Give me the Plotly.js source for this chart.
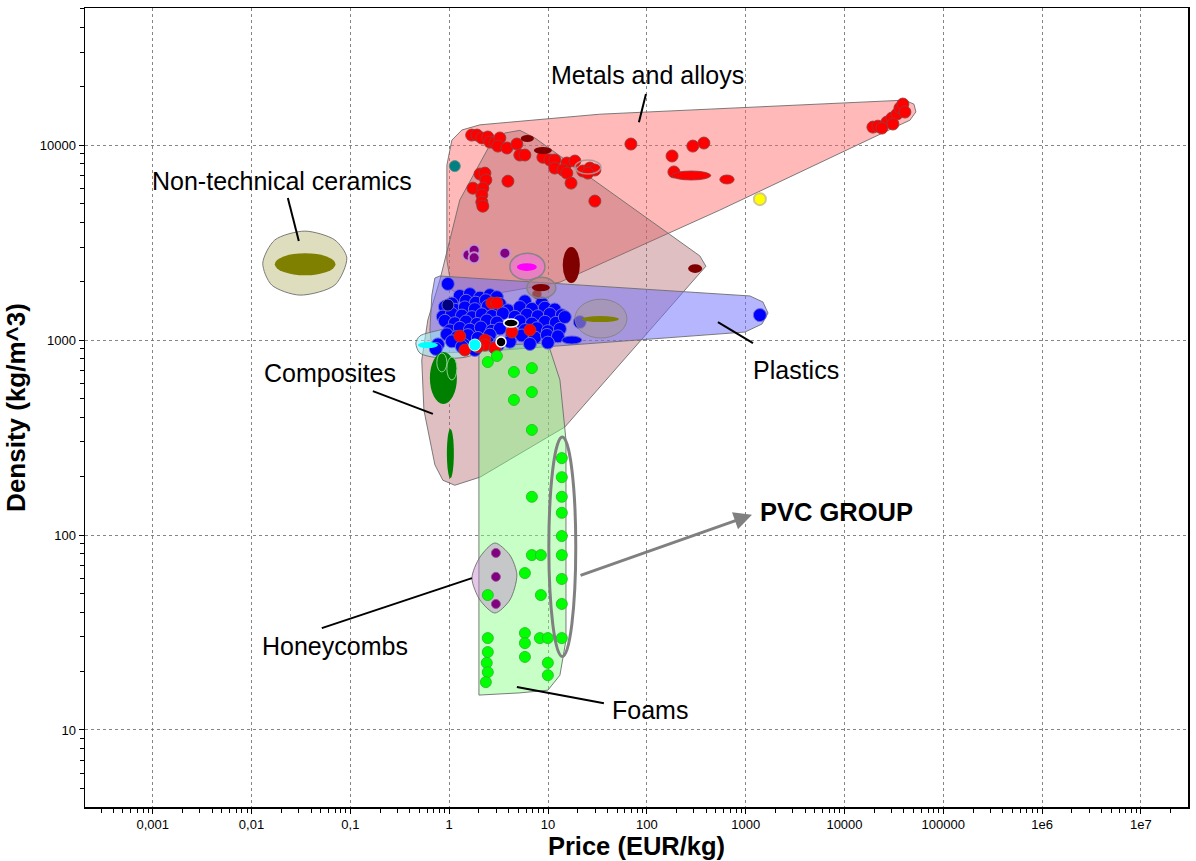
<!DOCTYPE html>
<html><head><meta charset="utf-8">
<script src="https://cdn.plot.ly/plotly-3.0.1.min.js"></script>
<style>html,body{margin:0;padding:0;background:#fff}#chart{width:1196px;height:861px}</style>
</head><body><div id="chart"></div>
<script>
// ---------- Tick labels ----------
const xTickVals = [0.001, 0.01, 0.1, 1, 10, 100, 1000, 10000, 100000, 1e6, 1e7];
const xTickText = ['0,001', '0,01', '0,1', '1', '10', '100', '1000', '10000', '100000', '1e6', '1e7'];
const yTickVals = [10, 100, 1000, 10000];
const yTickText = ['10', '100', '1000', '10000'];

// ---------- Family envelopes (price EUR/kg, density kg/m^3) ----------
const metalsPrice = [0.948, 0.948, 1.065, 1.345, 2.05, 33.5, 40900, 50500, 52800, 45900, 36400, 548, 13.2, 1.62, 1.065, 0.948];
const metalsDensity = [5220, 7890, 10600, 11950, 12700, 14400, 17000, 16200, 14800, 13400, 12700, 4640, 1980, 1640, 1800, 2570];

const compositesPrice = [0.805, 1.28, 2.58, 3.66, 5.19, 7.37, 344, 396, 329, 14.8, 2.05, 1.14, 0.863, 0.717, 0.555, 0.528, 0.608];
const compositesDensity = [2030, 5230, 10000, 11530, 11900, 10870, 2700, 2390, 2150, 358, 198, 180, 191, 229, 438, 790, 1266];

const plasticsPrice = [0.717, 0.805, 1105, 1496, 1683, 1462, 984, 2.58, 0.805, 0.668, 0.638, 0.668];
const plasticsDensity = [2080, 2130, 1683, 1567, 1375, 1208, 1099, 879, 858, 910, 1126, 1700];

const elastomersPrice = [0.460, 0.505, 0.805, 1.62, 4.62, 6.11, 6.24, 3.26, 1.62, 0.805, 0.505];
const elastomersDensity = [965, 1049, 1126, 1237, 1511, 1530, 1393, 1061, 828, 809, 858];

const foamsPrice = [2.0, 9.97, 13.2, 15.2, 15.2, 13.2, 9.97, 5.19, 2.0];
const foamsDensity = [931, 965, 624, 307, 28.9, 19.1, 16.0, 15.5, 15.1];

const honeycombsPrice = [1.70, 2.05, 2.90, 4.11, 4.84, 4.11, 2.90, 2.05];
const honeycombsDensity = [60.1, 77.1, 91.0, 78.9, 62.4, 46.4, 39.8, 46.4];

const ceramicsPrice = [0.0130, 0.0172, 0.0346, 0.0697, 0.0921, 0.0697, 0.0308, 0.0160];
const ceramicsDensity = [2480, 3260, 3620, 3260, 2640, 1915, 1700, 1915];

// ---------- Individual materials (points) ----------
const metalDotsPrice = [1.69, 1.91, 2.14, 2.46, 2.58, 2.90, 3.26, 3.11, 3.84, 4.84, 5.19, 5.84,
  2.05, 2.30, 2.35, 1.74, 2.19, 2.14, 2.14, 2.19, 3.93,
  8.88, 10.45, 11.7, 11.7, 15.5, 18.7, 14.2, 15.5, 17.1, 22.5, 26.5, 29.8, 25.3, 29.8,
  69.0, 180, 292, 378, 188,
  19400, 21800, 26900, 30200, 34000, 36400, 39000, 40900, 30900, 23900];
const metalDotsDensity = [11250, 11250, 10870, 11000, 10360, 10240, 10870, 9880, 9660, 10120, 8890, 8890,
  7100, 7180, 6620, 6010, 6010, 5540, 5100, 4860, 6530,
  8660, 8380, 8380, 7620, 8090, 8280, 7450, 7180, 6380, 7360, 7620, 7450, 7180, 5160,
  10120, 8790, 9880, 10240, 7280,
  12360, 12500, 13120, 13750, 14420, 15490, 16230, 14770, 12820, 12220];

const plasticDotsPrice = [1.28, 1.62, 2.05, 2.58, 3.04,
  1.065, 1.48, 1.86, 2.35, 3.26, 5.84, 8.67,
  0.905, 1.14, 1.44, 1.82, 2.46, 3.11, 3.93, 5.19, 6.87, 9.31, 11.7,
  0.863, 1.065, 1.345, 1.70, 2.14, 2.70, 3.49, 4.62, 6.11, 7.89, 10.45, 13.8,
  0.905, 1.14, 1.48, 1.91, 2.40, 3.04, 5.19, 6.87, 9.31, 12.0, 21.0,
  1.016, 1.28, 1.62, 2.09, 2.70, 3.26, 5.84, 7.72, 9.97, 13.2,
  0.948, 1.197, 1.55, 1.95, 2.58, 4.31, 5.44, 7.37, 9.75, 12.6,
  0.771, 1.065, 1.411, 2.46, 3.11, 4.11, 6.56, 9.97,
  0.733, 1.345, 1.82, 2.90,
  0.97, 14.8, 1393];
const plasticDotsDensity = [1683, 1720, 1650, 1700, 1660,
  1540, 1590, 1555, 1600, 1530, 1580, 1545,
  1480, 1430, 1470, 1440, 1490, 1450, 1420, 1475, 1445, 1465, 1435,
  1320, 1365, 1335, 1310, 1355, 1330, 1370, 1315, 1350, 1325, 1360, 1340,
  1255, 1220, 1245, 1210, 1260, 1230, 1250, 1215, 1240, 1225, 1237,
  1120, 1155, 1130, 1160, 1115, 1145, 1125, 1150, 1110, 1140,
  1070, 1035, 1060, 1025, 1065, 1040, 1055, 1030, 1062, 1045,
  950, 985, 945, 975, 940, 980, 955, 970,
  900, 925, 890, 915,
  1940, 1312, 1343];

const redPlasticPrice = [2.70, 3.04, 4.31, 6.56, 2.30, 2.30, 2.90, 1.44, 1.95, 1.28];
const redPlasticDensity = [1549, 1549, 1099, 1126, 1000, 943, 910, 889, 921, 1048];

const foamDotsPrice = [2.46, 3.04, 4.52, 6.87, 6.87, 4.52, 6.87, 6.87,
  13.8, 13.8, 13.8, 13.8, 13.8, 13.8, 13.8, 13.8, 13.8,
  6.87, 8.47, 5.84, 8.47, 2.46, 5.84, 5.84, 5.84, 8.28, 9.97, 2.46, 2.46, 2.40, 2.46, 2.35, 9.97, 9.97];
const foamDotsDensity = [771, 828, 686, 718, 541, 493, 346, 157,
  248, 198, 157, 130, 98.8, 78.9, 59.5, 44.3, 29.6,
  78.9, 78.9, 63.8, 49.2, 49.2, 31.4, 27.9, 23.7, 29.6, 29.6, 29.6, 25.1, 22.1, 19.8, 17.6, 22.1, 19.1];

const honeycombDotsPrice = [2.97, 2.97, 2.97];
const honeycombDotsDensity = [80.9, 61.0, 44.3];

const purpleDotsPrice = [1.55, 1.79, 1.79, 3.66];
const purpleDotsDensity = [2730, 2890, 2640, 2790];

const tealPrice = [1.14];      const tealDensity = [7800];
const yellowPrice = [1393];    const yellowDensity = [5280];
const navyPrice = [0.97];      const navyDensity = [1511];
const darkRedDotPrice = [7.72]; const darkRedDotDensity = [1720];
const blackDotPrice = [3.35];  const blackDotDensity = [977];
const cyanDotPrice = [1.82];   const cyanDotDensity = [943];

// ---------- Materials shown as ranges (ellipses) ----------
const rangeNames = ['ceramicOlive', 'magentaBubble', 'magenta', 'grayBubble', 'darkRed1', 'bigDarkRed', 'oliveBubble', 'olive2',
  'darkRedTop1', 'darkRedTop2', 'redLong', 'redSmall', 'darkRedRight', 'redBubble',
  'greenBig', 'greenIn1', 'greenIn2', 'greenThin', 'blueLong', 'cyanSmall', 'blackLong', 'pvcGroup'];
const rangePriceLo = [0.0172, 4.11, 4.84, 6.11, 6.87, 14.1, 18.7, 22.0, 5.3, 7.2, 179, 548, 262, 18.7, 0.638, 0.75, 0.948, 0.948, 13.8, 0.482, 3.57, 10.2];
const rangePriceHi = [0.0707, 9.31, 7.72, 12.0, 10.45, 21.0, 62.9, 52.2, 7.2, 10.95, 443, 764, 363, 34.3, 1.197, 0.948, 1.197, 1.115, 22.0, 0.77, 5.0, 19.1];
const rangeDensLo = [2150, 2030, 2260, 1640, 1780, 1960, 1024, 1237, 10370, 9000, 6620, 6320, 2210, 7100, 470, 686, 624, 196, 954, 910, 1166, 23.8];
const rangeDensHi = [2790, 2790, 2480, 2100, 1940, 3000, 1620, 1328, 11250, 9770, 7360, 7020, 2450, 8380, 868, 858, 818, 350, 1048, 977, 1281, 318];

// ---------- Labels ----------
const labelText = ['Metals and alloys', 'Non-technical ceramics', 'Composites', 'Plastics', 'Honeycombs', 'Foams'];
const labelPrice = [102.6, 0.0203, 0.0621, 3221, 0.0697, 107.4];
const labelDensity = [22860, 6530, 678, 702, 27.0, 12.7];
const leaderFromPrice = [98, 0.0233, 0.169, 524, 0.0514, 4.84];
const leaderFromDensity = [18300, 5350, 547, 1237, 33.3, 16.6];
const leaderToPrice = [83.2, 0.0301, 0.684, 1186, 1.70, 36.8];
const leaderToDensity = [13100, 3220, 418, 965, 60.1, 13.7];
const pvcLabel = 'PVC GROUP';
const pvcLabelPrice = 8390; const pvcLabelDensity = 131;
const pvcArrowFromPrice = 20.6; const pvcArrowFromDensity = 61.7;
const pvcArrowToPrice = 1159; const pvcArrowToDensity = 127;

// ---------- Styles ----------
const FONT = 'Liberation Sans, Arial, sans-serif';
const envLine = {color: 'rgba(110,110,110,0.9)', width: 1};
const rangeStyle = {
  ceramicOlive: {fill: '#808000', line: 'rgba(0,0,0,0)', w: 0},
  magentaBubble: {fill: 'rgba(235,120,205,0.75)', line: 'rgba(130,130,130,0.9)', w: 1.5},
  magenta: {fill: '#ff00ff', line: 'rgba(0,0,0,0)', w: 0},
  grayBubble: {fill: 'rgba(175,130,140,0.55)', line: 'rgba(130,130,130,0.9)', w: 1.5},
  darkRed1: {fill: '#800000', line: 'rgba(0,0,0,0)', w: 0},
  bigDarkRed: {fill: '#800000', line: 'rgba(0,0,0,0)', w: 0},
  oliveBubble: {fill: 'rgba(165,150,160,0.6)', line: 'rgba(130,130,130,0.9)', w: 1},
  olive2: {fill: '#808000', line: 'rgba(0,0,0,0)', w: 0},
  darkRedTop1: {fill: '#800000', line: 'rgba(0,0,0,0)', w: 0},
  darkRedTop2: {fill: '#800000', line: 'rgba(0,0,0,0)', w: 0},
  redLong: {fill: '#ff0000', line: 'rgba(150,60,60,0.9)', w: 1},
  redSmall: {fill: '#ff0000', line: 'rgba(150,60,60,0.9)', w: 1},
  darkRedRight: {fill: '#800000', line: 'rgba(0,0,0,0)', w: 0},
  redBubble: {fill: 'rgba(255,255,255,0)', line: 'rgba(170,150,150,0.9)', w: 1.5},
  greenBig: {fill: '#008000', line: 'rgba(0,0,0,0)', w: 0},
  greenIn1: {fill: '#008000', line: 'rgba(140,210,140,1)', w: 1},
  greenIn2: {fill: '#008000', line: 'rgba(140,210,140,1)', w: 1},
  greenThin: {fill: '#008000', line: 'rgba(0,0,0,0)', w: 0},
  blueLong: {fill: '#0000ff', line: 'rgba(90,90,200,1)', w: 1},
  cyanSmall: {fill: '#00ffff', line: 'rgba(0,0,0,0)', w: 0},
  blackLong: {fill: '#000000', line: '#ffffff', w: 1.5},
  pvcGroup: {fill: 'rgba(255,255,255,0)', line: 'rgb(128,128,128)', w: 3}
};

function closed(a) { return a.concat([a[0]]); }
function envelope(px, py, fill, shape) {
  return {type: 'scatter', mode: 'lines', x: closed(px), y: closed(py), fill: 'toself', fillcolor: fill,
    line: Object.assign({shape: shape || 'linear', smoothing: 0.8}, envLine), hoverinfo: 'skip', showlegend: false};
}
function dots(px, py, color, size, lineColor, lineWidth) {
  return {type: 'scatter', mode: 'markers', x: px, y: py, showlegend: false, hoverinfo: 'skip',
    marker: {color: color, size: size, line: {color: lineColor, width: lineWidth}}};
}

const traces = [
  envelope(metalsPrice, metalsDensity, 'rgba(255,100,100,0.45)'),
  envelope(compositesPrice, compositesDensity, 'rgba(175,95,100,0.4)'),
  envelope(plasticsPrice, plasticsDensity, 'rgba(110,110,255,0.5)'),
  envelope(elastomersPrice, elastomersDensity, 'rgba(150,235,245,0.55)', 'spline'),
  envelope(foamsPrice, foamsDensity, 'rgba(130,255,130,0.45)'),
  envelope(honeycombsPrice, honeycombsDensity, 'rgba(195,130,205,0.45)', 'spline'),
  envelope(ceramicsPrice, ceramicsDensity, 'rgba(190,190,125,0.5)', 'spline'),
  dots(tealPrice, tealDensity, '#008080', 11, 'rgba(90,140,140,0.9)', 1),
  dots(purpleDotsPrice, purpleDotsDensity, '#800080', 11, 'rgba(200,150,210,0.9)', 2),
  dots(metalDotsPrice, metalDotsDensity, '#ff0000', 12, 'rgba(150,60,60,0.9)', 1),
  dots(yellowPrice, yellowDensity, '#ffff00', 12, 'rgba(210,200,140,1)', 2),
  dots(plasticDotsPrice, plasticDotsDensity, '#0000ff', 13, 'rgba(110,110,215,1)', 1),
  dots(navyPrice, navyDensity, '#000080', 12, 'rgba(100,100,200,1)', 1),
  dots(redPlasticPrice, redPlasticDensity, '#ff0000', 12, 'rgba(150,60,60,0.9)', 1),
  dots(darkRedDotPrice, darkRedDotDensity, '#800000', 9, 'rgba(140,60,60,0.9)', 1),
  dots(blackDotPrice, blackDotDensity, '#000000', 10, '#ffffff', 1.5),
  dots(cyanDotPrice, cyanDotDensity, '#00ffff', 12, 'rgba(200,255,255,1)', 1),
  dots(foamDotsPrice, foamDotsDensity, '#00ff00', 11, 'rgba(40,190,40,0.9)', 1),
  dots(honeycombDotsPrice, honeycombDotsDensity, '#800080', 9, 'rgba(150,80,150,0.9)', 1)
];

const shapes = [];
for (let i = 0; i < rangeNames.length; i++) {
  const st = rangeStyle[rangeNames[i]];
  shapes.push({type: 'circle', xref: 'x', yref: 'y', layer: 'above',
    x0: rangePriceLo[i], x1: rangePriceHi[i], y0: rangeDensLo[i], y1: rangeDensHi[i],
    fillcolor: st.fill, line: {color: st.line, width: st.w}});
}
for (let i = 0; i < labelText.length; i++) {
  shapes.push({type: 'line', xref: 'x', yref: 'y', layer: 'above',
    x0: leaderFromPrice[i], y0: leaderFromDensity[i], x1: leaderToPrice[i], y1: leaderToDensity[i],
    line: {color: '#000000', width: 2}});
}

const annotations = labelText.map((t, i) => ({
  text: t, xref: 'x', yref: 'y', x: Math.log10(labelPrice[i]), y: Math.log10(labelDensity[i]),
  showarrow: false, font: {family: FONT, size: 25, color: '#000'}, xanchor: 'center', yanchor: 'middle'
}));
annotations.push({text: '<b>' + pvcLabel + '</b>', xref: 'x', yref: 'y', x: Math.log10(pvcLabelPrice), y: Math.log10(pvcLabelDensity),
  showarrow: false, font: {family: FONT, size: 25.5, color: '#000'}, xanchor: 'center', yanchor: 'middle'});
annotations.push({text: '', xref: 'x', yref: 'y', axref: 'x', ayref: 'y',
  x: Math.log10(pvcArrowToPrice), y: Math.log10(pvcArrowToDensity),
  ax: Math.log10(pvcArrowFromPrice), ay: Math.log10(pvcArrowFromDensity),
  showarrow: true, arrowhead: 2, arrowsize: 1.2, arrowwidth: 3, arrowcolor: 'rgb(128,128,128)'});

function minorVals(e0, e1) {
  const v = [];
  for (let e = e0; e <= e1; e++) for (let m = 2; m <= 9; m++) v.push(m * Math.pow(10, e));
  return v;
}

const axisCommon = {
  type: 'log', showline: true, linecolor: '#000', linewidth: 1.5, mirror: true,
  ticks: 'outside', ticklen: 5, tickcolor: '#000', tickwidth: 1,
  showgrid: true, gridcolor: 'rgba(120,120,120,0.9)', gridwidth: 1, griddash: '3px,3px',
  zeroline: false, tickfont: {family: FONT, size: 13, color: '#000'}, tickmode: 'array'
};

const layout = {
  width: 1196, height: 861,
  margin: {l: 85, r: 8, t: 8, b: 54},
  paper_bgcolor: '#fff', plot_bgcolor: '#fff',
  showlegend: false,
  xaxis: Object.assign({}, axisCommon, {
    range: [-3.685, 7.476], tickvals: xTickVals, ticktext: xTickText,
    minor: {tickmode: 'array', tickvals: minorVals(-4, 7), ticks: 'outside', ticklen: 4, tickcolor: '#000', showgrid: false},
    title: {text: '<b>Price (EUR/kg)</b>', font: {family: FONT, size: 25.5, color: '#000'}, standoff: 5}
  }),
  yaxis: Object.assign({}, axisCommon, {
    range: [0.605, 4.703], tickvals: yTickVals, ticktext: yTickText,
    minor: {tickmode: 'array', tickvals: minorVals(0, 4), ticks: 'outside', ticklen: 4, tickcolor: '#000', showgrid: false},
    title: {text: '<b>Density (kg/m^3)</b>', font: {family: FONT, size: 26, color: '#000'}, standoff: 6}
  }),
  shapes: shapes,
  annotations: annotations
};

Plotly.newPlot('chart', traces, layout, {displayModeBar: false, staticPlot: true});
</script></body></html>
